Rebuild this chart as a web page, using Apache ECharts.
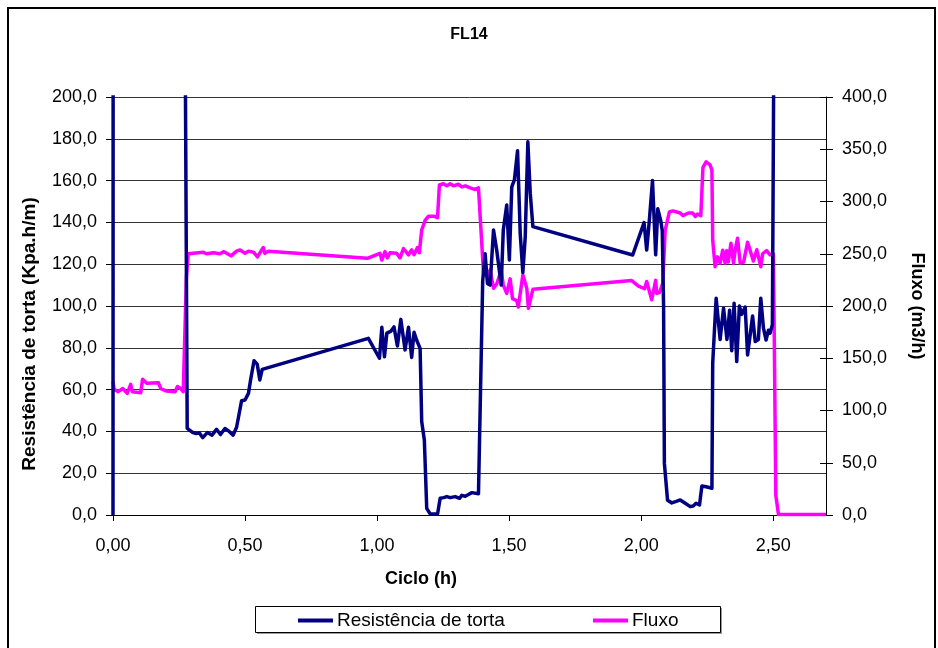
<!DOCTYPE html>
<html>
<head>
<meta charset="utf-8">
<title>FL14</title>
<script src="https://cdn.jsdelivr.net/npm/echarts@6/dist/echarts.min.js"></script>
<style>
  html, body { margin: 0; padding: 0; background: #fff; }
  #chart { width: 938px; height: 648px; }
</style>
</head>
<body>
<div id="chart"></div>
<script>
// Cycle time (h) and cake resistance (Kpa.h/m); 900 marks readings above the 200 scale top
const resTempo = [0, 0.002, 0.10, 0.20, 0.272, 0.281, 0.288, 0.300, 0.315, 0.327, 0.340, 0.358, 0.375, 0.392, 0.407,
  0.424, 0.440, 0.455, 0.468, 0.480, 0.487, 0.500, 0.513, 0.521, 0.534, 0.546, 0.556, 0.565, 0.967,
  1.009, 1.018, 1.028, 1.037, 1.053, 1.064, 1.077, 1.090, 1.106, 1.119, 1.131, 1.140, 1.150, 1.163,
  1.169, 1.179, 1.188, 1.201, 1.229, 1.239, 1.252, 1.264, 1.277, 1.296, 1.312, 1.321, 1.334, 1.346,
  1.359, 1.384, 1.400, 1.409, 1.418, 1.428, 1.441, 1.453, 1.470, 1.478, 1.491, 1.501, 1.510, 1.520,
  1.532, 1.542, 1.552, 1.561, 1.571, 1.580, 1.590, 1.968, 2.011, 2.021, 2.031, 2.043, 2.055, 2.063,
  2.074, 2.080, 2.085, 2.088, 2.100, 2.116, 2.133, 2.148, 2.167, 2.186, 2.197, 2.208, 2.221, 2.230,
  2.246, 2.268, 2.271, 2.284, 2.299, 2.312, 2.325, 2.335, 2.343, 2.352, 2.362, 2.372, 2.381, 2.394,
  2.403, 2.422, 2.432, 2.444, 2.453, 2.463, 2.473, 2.482, 2.488, 2.497, 2.504, 2.60, 2.70];
const resValor = [0, 900, 900, 900, 260, 41.5, 41, 39.6, 39, 39.3, 37, 39.5, 38.2, 41, 38.5,
  41.4, 40, 38.2, 42, 50, 54.7, 55, 58.2, 64.6, 73.8, 72.2, 64.6, 69.7, 84.5,
  75, 89.8, 75.7, 87, 88, 90, 80.9, 93.6, 79, 89.8, 75.4, 87.4, 83.6, 79.7,
  44.7, 35.9, 3.2, 0.5, 0.5, 8, 8.3, 8.8, 8.3, 8.8, 8, 9.4, 9, 9.8,
  10.7, 10.2, 112, 125, 110.8, 110, 136.4, 126.8, 110, 136.4, 148.3, 122, 157, 160.3,
  174.3, 134.8, 116, 133, 178.6, 154, 138, 124.4, 139.9, 126.8, 141, 160, 124.5, 146.5,
  141, 136, 99.7, 24.7, 7, 5.8, 6.5, 7.2, 5.6, 4, 4.3, 5.6, 4.8, 13.9,
  13.5, 12.8, 72.6, 103.7, 84, 98.9, 84, 98, 78.6, 101.3, 73.4, 100, 96, 99.5,
  76.6, 95.2, 83, 84, 103.7, 89.5, 83.7, 88.4, 87, 91, 260, 900, 900];

// Cycle time (h) and filtrate flow (m3/h)
const fluxoTempo = [0, 0.004, 0.020, 0.037, 0.054, 0.067, 0.073, 0.105, 0.112, 0.128, 0.172, 0.181, 0.203,
  0.235, 0.244, 0.254, 0.266, 0.278, 0.285, 0.342, 0.355, 0.380, 0.405, 0.420, 0.447, 0.468, 0.481,
  0.500, 0.513, 0.532, 0.547, 0.569, 0.575, 0.588, 0.963, 1.011, 1.018, 1.030, 1.039, 1.049, 1.074,
  1.087, 1.100, 1.119, 1.131, 1.140, 1.153, 1.160, 1.169, 1.182, 1.195, 1.214, 1.229, 1.236, 1.251,
  1.264, 1.277, 1.289, 1.308, 1.321, 1.334, 1.353, 1.369, 1.384, 1.403, 1.415, 1.428, 1.441, 1.453,
  1.470, 1.478, 1.491, 1.504, 1.513, 1.529, 1.535, 1.552, 1.567, 1.573, 1.590, 1.963, 1.990, 2.013,
  2.021, 2.040, 2.055, 2.059, 2.070, 2.082, 2.091, 2.107, 2.120, 2.148, 2.158, 2.179, 2.195, 2.205,
  2.214, 2.226, 2.234, 2.246, 2.261, 2.268, 2.271, 2.280, 2.289, 2.299, 2.309, 2.318, 2.324, 2.330,
  2.340, 2.350, 2.356, 2.365, 2.375, 2.388, 2.403, 2.413, 2.425, 2.438, 2.453, 2.460, 2.475, 2.488,
  2.501, 2.510, 2.520, 2.700];
const fluxoValor = [128, 120.3, 118, 121, 116.4, 125, 118, 117, 130, 126, 126.6, 121, 118.6,
  118, 123, 121.6, 118, 228, 250, 251.4, 250, 251, 250, 252, 248, 252.5, 253.6,
  250.5, 252.5, 251.5, 247, 256, 250.5, 252.5, 245.6, 250.4, 244, 252, 246, 251, 250.5,
  246, 255, 249, 253.7, 249, 256, 251, 272.7, 282, 286, 286, 284.5, 315.8, 317,
  315, 317, 315, 316.5, 314, 315, 313, 311.6, 313, 232, 228.5, 234.4, 217, 221,
  234, 220, 212, 226, 207, 205, 199, 229.7, 217, 197.8, 216, 224.5, 219, 216.5,
  223.5, 206, 224.5, 212, 213, 222, 272.7, 290, 291, 289, 286.5, 289, 289, 285.6,
  288, 286.5, 332.7, 338, 335, 330, 263, 237.6, 247, 241, 253.4, 241, 253, 242,
  260, 241, 253, 264.8, 241, 242, 261, 253, 243, 253.8, 237.6, 250, 253, 249,
  249.6, 19, 0.5, 0.5];

// Axis tick values
const xTicks = [0, 0.5, 1.0, 1.5, 2.0, 2.5];
const yLeftMax = 200, yLeftStep = 20;
const yRightMax = 400, yRightStep = 50;

const zip = (xs, ys) => xs.map((x, i) => [x, ys[i]]);
const comma = (v, d) => v.toFixed(d).replace('.', ',');

const FONT = 'Arial, "Liberation Sans", Helvetica, sans-serif';
const NAVY = '#000080';
const MAGENTA = '#FF00FF';

const chart = echarts.init(document.getElementById('chart'), null, { renderer: 'canvas' });

const legendText = { fontFamily: FONT, fontSize: 19, color: '#000', padding: [0, 0, 0, -1] };

chart.setOption({
  backgroundColor: '#ffffff',
  animation: false,
  textStyle: { fontFamily: FONT },
  title: {
    text: 'FL14',
    left: 'center',
    top: 22,
    textStyle: { fontFamily: FONT, fontSize: 16, fontWeight: 'bold', color: '#000' }
  },
  grid: { left: 113, right: 112, top: 97, bottom: 133, containLabel: false },
  legend: [
    {
      data: ['Resistência de torta'],
      left: 298, top: 611, padding: 0,
      icon: 'rect', itemWidth: 35, itemHeight: 4, itemGap: 0,
      textStyle: legendText
    },
    {
      data: ['Fluxo'],
      left: 593, top: 611, padding: 0,
      icon: 'rect', itemWidth: 35, itemHeight: 4, itemGap: 0,
      textStyle: legendText
    }
  ],
  xAxis: {
    type: 'value',
    min: 0, max: 2.7, interval: 0.5,
    axisLine: { show: true, onZero: false, lineStyle: { color: '#000', width: 1 } },
    axisTick: { show: true, inside: false, length: 6, customValues: xTicks, lineStyle: { color: '#000' } },
    axisLabel: {
      customValues: xTicks,
      margin: 22,
      fontFamily: FONT, fontSize: 18, color: '#000',
      formatter: v => comma(v, 2)
    },
    splitLine: { show: false }
  },
  yAxis: [
    {
      type: 'value',
      position: 'left',
      min: 0, max: yLeftMax, interval: yLeftStep,
      axisLine: { show: true, lineStyle: { color: '#000', width: 1 } },
      axisTick: { show: true, inside: false, length: 7, lineStyle: { color: '#000' } },
      axisLabel: {
        margin: 16, fontFamily: FONT, fontSize: 18, color: '#000',
        formatter: v => comma(v, 1)
      },
      splitLine: { show: true, lineStyle: { color: '#333', width: 1 } }
    },
    {
      type: 'value',
      position: 'right',
      min: 0, max: yRightMax, interval: yRightStep,
      axisLine: { show: true, lineStyle: { color: '#000', width: 1 } },
      axisTick: { show: true, inside: false, length: 7, lineStyle: { color: '#000' } },
      axisLabel: {
        margin: 16, fontFamily: FONT, fontSize: 18, color: '#000',
        formatter: v => comma(v, 1)
      },
      splitLine: { show: false }
    },
    {
      // inner half of the crossing ticks on the flow axis
      type: 'value',
      position: 'right',
      min: 0, max: yRightMax, interval: yRightStep,
      axisLine: { show: false },
      axisTick: { show: true, inside: true, length: 6, lineStyle: { color: '#000' } },
      axisLabel: { show: false },
      splitLine: { show: false }
    }
  ],
  series: [
    {
      name: 'Resistência de torta',
      type: 'line',
      yAxisIndex: 0,
      data: zip(resTempo, resValor),
      showSymbol: false,
      symbol: 'none',
      clip: true,
      lineStyle: { color: NAVY, width: 3.5, join: 'round' },
      itemStyle: { color: NAVY },
      z: 3
    },
    {
      name: 'Fluxo',
      type: 'line',
      yAxisIndex: 1,
      data: zip(fluxoTempo, fluxoValor),
      showSymbol: false,
      symbol: 'none',
      clip: true,
      lineStyle: { color: MAGENTA, width: 3.5, join: 'round' },
      itemStyle: { color: MAGENTA },
      z: 2
    }
  ],
  graphic: [
    {
      type: 'rect',
      shape: { x: 8, y: 8, width: 927, height: 700 },
      style: { fill: 'none', stroke: '#000', lineWidth: 2 },
      silent: true, z: 0
    },
    {
      type: 'rect',
      shape: { x: 257, y: 608, width: 465, height: 26 },
      style: { fill: '#9a9a9a' },
      silent: true, z: 0
    },
    {
      type: 'rect',
      shape: { x: 255.5, y: 606.5, width: 465, height: 26 },
      style: { fill: '#fff', stroke: '#000', lineWidth: 1 },
      silent: true, z: 1
    },
    {
      type: 'text',
      x: 30, y: 334, rotation: Math.PI / 2,
      style: {
        text: 'Resistência de torta (Kpa.h/m)',
        font: 'bold 19px ' + FONT,
        fill: '#000', align: 'center', verticalAlign: 'middle'
      },
      silent: true
    },
    {
      type: 'text',
      x: 917, y: 306, rotation: -Math.PI / 2,
      style: {
        text: 'Fluxo (m3/h)',
        font: 'bold 18px ' + FONT,
        fill: '#000', align: 'center', verticalAlign: 'middle'
      },
      silent: true
    },
    {
      type: 'text',
      x: 421, y: 579,
      style: {
        text: 'Ciclo (h)',
        font: 'bold 18px ' + FONT,
        fill: '#000', align: 'center', verticalAlign: 'middle'
      },
      silent: true
    }
  ]
});
</script>
</body>
</html>
